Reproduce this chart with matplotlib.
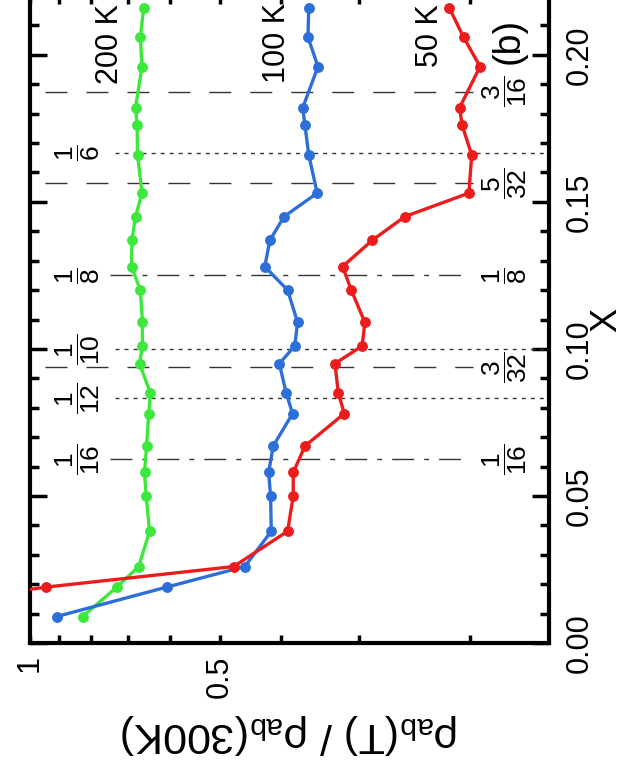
import matplotlib
matplotlib.use('Agg')
import matplotlib.pyplot as plt
from matplotlib.ticker import FixedLocator, FixedFormatter, MultipleLocator, NullLocator, FormatStrFormatter
import matplotlib.transforms as mtransforms

plt.rcParams['font.family'] = ['Liberation Sans', 'DejaVu Sans']
plt.rcParams['mathtext.fontset'] = 'custom'
plt.rcParams['mathtext.rm'] = 'Liberation Sans'
plt.rcParams['mathtext.it'] = 'Liberation Sans:italic'
plt.rcParams['mathtext.bf'] = 'Liberation Sans:bold'
plt.rcParams['mathtext.sf'] = 'Liberation Sans'

# ---------------- data ----------------
x_doping = [0.009, 0.019, 0.026, 0.038, 0.050, 0.058, 0.067, 0.078, 0.085, 0.095,
            0.101, 0.109, 0.120, 0.128, 0.137, 0.145, 0.153, 0.166, 0.176, 0.182,
            0.196, 0.206, 0.216]
rho_200K = [0.825, 0.728, 0.672, 0.646, 0.654, 0.658, 0.653, 0.648, 0.644, 0.670,
            0.663, 0.663, 0.668, 0.690, 0.689, 0.680, 0.664, 0.675, 0.676, 0.680,
            0.664, 0.668, 0.660]
rho_100K = [0.907, 0.607, 0.456, 0.414, 0.415, 0.418, 0.411, 0.383, 0.392, 0.402,
            0.380, 0.376, 0.390, 0.424, 0.416, 0.395, 0.350, 0.361, 0.366, 0.369,
            0.349, 0.362, 0.361]
rho_50K = [2.0, 0.944, 0.475, 0.390, 0.382, 0.382, 0.366, 0.317, 0.324, 0.328,
           0.297, 0.294, 0.309, 0.319, 0.286, 0.254, 0.201, 0.199, 0.206, 0.208,
           0.193, 0.205, 0.216]

series_labels = ['200 K', '100 K', '50 K']

frac_values = [1/16, 1/12, 3/32, 1/10, 1/8, 5/32, 1/6, 3/16]
frac_num = [1, 1, 3, 1, 1, 5, 1, 3]
frac_den = [16, 12, 32, 10, 8, 32, 6, 16]
frac_kind = ['dashdot', 'dotted', 'dashed', 'dotted', 'dashdot', 'dashed', 'dotted', 'dashed']

rho_ticks = [0.2, 0.3, 0.4, 0.5, 0.6, 0.7, 0.8, 0.9, 1.0]
rho_ticklabels = ['', '', '', '0.5', '', '', '', '', '1']

# ---------------- figure ----------------
W, H = 626, 784
fig = plt.figure(figsize=(W / 100, H / 100), dpi=100)
fig.patch.set_facecolor('white')
ax = fig.add_axes([30 / W, 1 - 643 / H, 519 / W, 647 / H])

ax.set_xscale('log')
ax.set_xlim(1.0, 0.15)
ax.set_ylim(0.0, 0.22)

green = '#3de83d'
blue = '#2d6fd9'
red = '#ec1c1c'

for rho, col in [(rho_200K, green), (rho_100K, blue), (rho_50K, red)]:
    ax.plot(rho, x_doping, '-o', color=col, lw=2.4, ms=6.8, zorder=5)

# reference lines
styles = {
    'dashed': dict(ls=(0, (15.8, 13.7)), xmin=0.029, xmax=0.854),
    'dotted': dict(ls=(0, (2.9, 3.6)), xmin=0.164, xmax=1.0),
    'dashdot': dict(ls=(0, (15.8, 7.2, 3.6, 7.2)), xmin=0.154, xmax=0.842),
}
blend = mtransforms.blended_transform_factory(ax.transAxes, ax.transData)
for val, num, den, kind in zip(frac_values, frac_num, frac_den, frac_kind):
    st = styles[kind]
    ax.axhline(val, xmin=st['xmin'], xmax=st['xmax'], color='#333333', lw=1.0,
               ls=st['ls'], zorder=2)
    lab = r'$\dfrac{%d}{%d}$' % (num, den)
    if kind in ('dotted', 'dashdot'):
        ax.text(0.0925, val, lab, transform=blend, rotation=90, ha='center',
                va='center', fontsize=19)
    if kind in ('dashed', 'dashdot'):
        ax.text(0.915, val, lab, transform=blend, rotation=90, ha='center',
                va='center', fontsize=19)

# temperature labels
for lab, rx, xs in zip(series_labels, [0.746, 0.406, 0.232], [0.190, 0.1905, 0.196]):
    ax.text(rx, xs, lab, rotation=90, rotation_mode='anchor', ha='left',
            va='center', fontsize=22)

ax.text(0.174, 0.2048, '(b)', rotation=90, rotation_mode='anchor', ha='center',
        va='center', fontsize=27)

# axes styling
for sp in ax.spines.values():
    sp.set_linewidth(3)

ax.xaxis.set_major_locator(FixedLocator(rho_ticks))
ax.xaxis.set_major_formatter(FixedFormatter(rho_ticklabels))
ax.xaxis.set_minor_locator(NullLocator())
ax.tick_params(axis='x', which='major', direction='in', top=True, bottom=True,
               length=6, width=2.5, labelsize=22, labelrotation=90, pad=9)

ax.yaxis.set_major_locator(MultipleLocator(0.05))
ax.yaxis.set_minor_locator(MultipleLocator(0.01))
ax.yaxis.set_major_formatter(FormatStrFormatter('%.2f'))
ax.tick_params(axis='y', which='both', direction='in', left=True, right=True,
               labelleft=False, labelright=True)
ax.tick_params(axis='y', which='major', length=12, width=2.5, labelsize=22,
               labelrotation=90, pad=11)
ax.tick_params(axis='y', which='minor', length=6.5, width=2.5)
for tk in ax.yaxis.get_major_ticks():
    tk.label2.set_verticalalignment('center')

ax.set_xlabel(r'ρ$_{\mathrm{ab}}$(T) / ρ$_{\mathrm{ab}}$(300K)', fontsize=31,
              rotation=180, labelpad=10)
ax.yaxis.set_label_position('right')
ax.set_ylabel('X', fontsize=26, rotation=90, labelpad=-4)

fig.savefig('out.png', dpi=100, facecolor='white')
